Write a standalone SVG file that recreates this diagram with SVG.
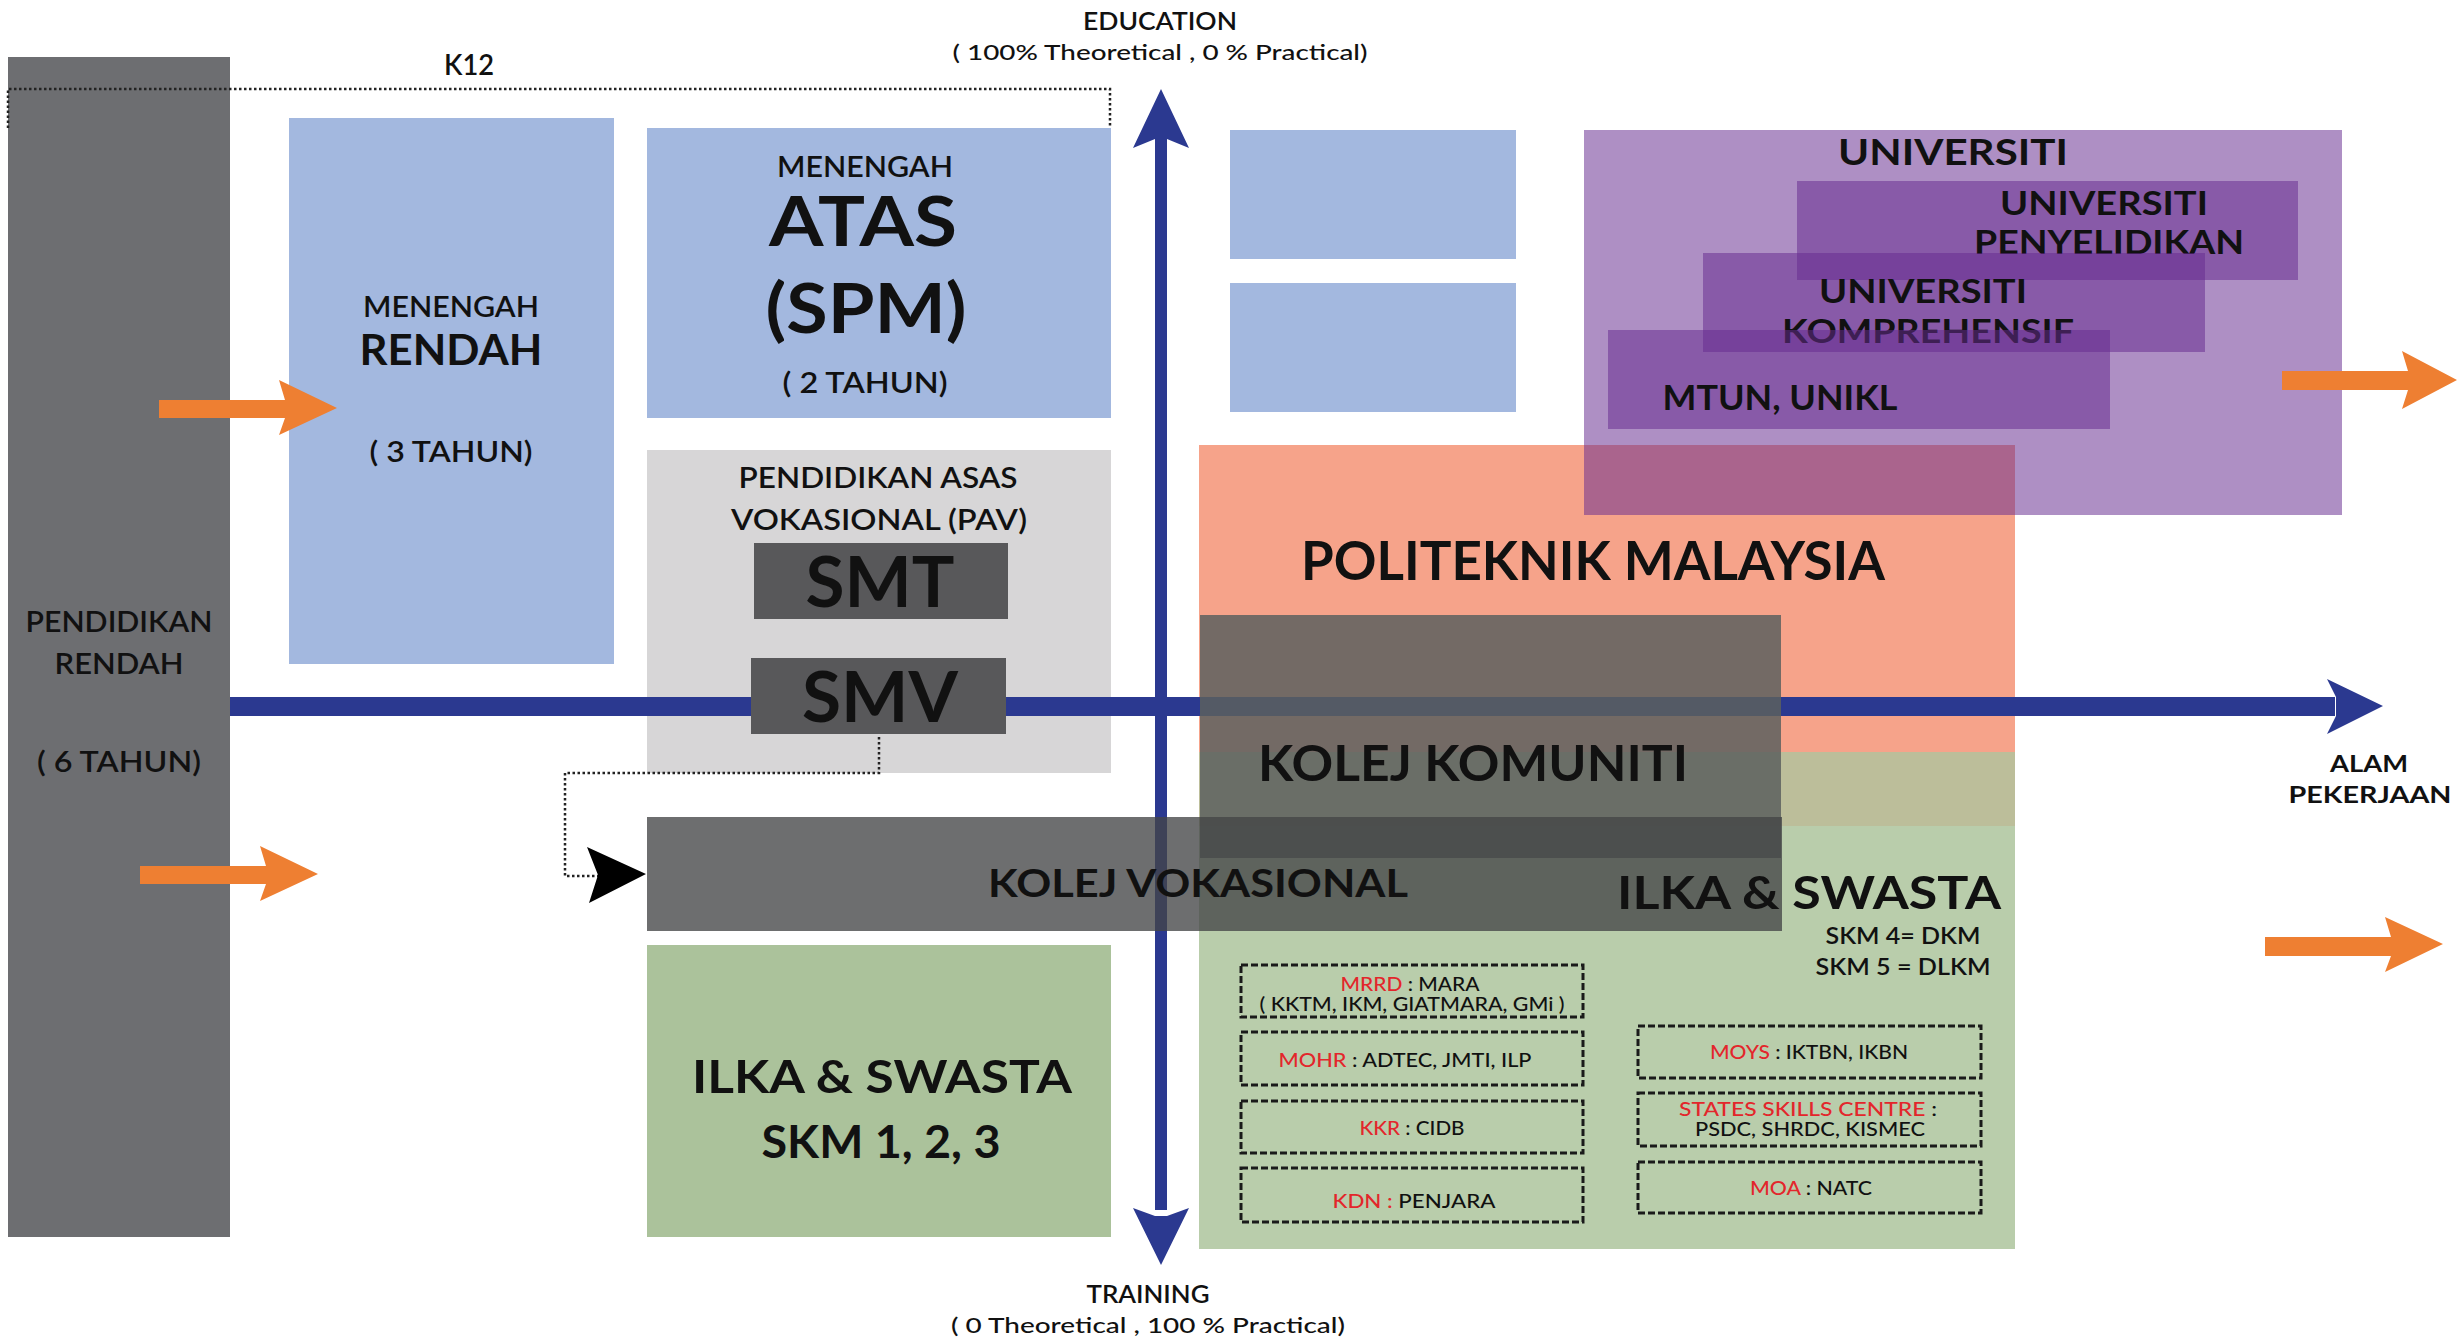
<svg xmlns="http://www.w3.org/2000/svg" width="2458" height="1340" viewBox="0 0 2458 1340">
<style>
text{font-family:Lato,"Liberation Sans",sans-serif;fill:#111;text-anchor:middle}
.b{font-weight:700}
.m{font-weight:600}
.r{font-weight:500}
.red{fill:#e3262b}
.dash{fill:none;stroke:#1a1a1a;stroke-width:3;stroke-dasharray:7 3}
.dot{fill:none;stroke:#222;stroke-width:2.5;stroke-dasharray:2.5 2.5}
.blue{fill:#2b3990}
.orange{fill:#ee7f32}
.lb{fill:#a3b8df}
.purple{fill:#662b8f;fill-opacity:.53}
</style>
<rect width="2458" height="1340" fill="#fff"/>

<g id="pendidikan-rendah">
<rect x="8" y="57" width="222" height="1180" fill="#6d6e71"/>
<text class="m" x="119" y="632" font-size="28" textLength="187" lengthAdjust="spacingAndGlyphs">PENDIDIKAN</text>
<text class="m" x="119" y="674" font-size="28" textLength="129" lengthAdjust="spacingAndGlyphs">RENDAH</text>
<text class="m" x="119" y="772" font-size="28" textLength="164" lengthAdjust="spacingAndGlyphs">( 6 TAHUN)</text>
</g>

<g id="menengah-rendah">
<rect x="289" y="118" width="325" height="546" class="lb"/>
<text class="m" x="451" y="317" font-size="28" textLength="176" lengthAdjust="spacingAndGlyphs">MENENGAH</text>
<text class="b" x="451" y="365" font-size="42" textLength="183" lengthAdjust="spacingAndGlyphs">RENDAH</text>
<text class="m" x="451" y="462" font-size="28" textLength="163" lengthAdjust="spacingAndGlyphs">( 3 TAHUN)</text>
</g>

<g id="menengah-atas">
<rect x="647" y="128" width="464" height="290" class="lb"/>
<text class="m" x="865" y="177" font-size="28" textLength="176" lengthAdjust="spacingAndGlyphs">MENENGAH</text>
<text class="b" x="863" y="246" font-size="68" textLength="188" lengthAdjust="spacingAndGlyphs">ATAS</text>
<text class="b" x="866" y="333" font-size="68" textLength="201" lengthAdjust="spacingAndGlyphs">(SPM)</text>
<text class="m" x="865" y="393" font-size="28" textLength="165" lengthAdjust="spacingAndGlyphs">( 2 TAHUN)</text>
</g>

<g id="pav">
<rect x="647" y="450" width="464" height="323" fill="#d7d6d7"/>
<text class="m" x="878" y="488" font-size="28" textLength="279" lengthAdjust="spacingAndGlyphs">PENDIDIKAN ASAS</text>
<text class="m" x="879" y="530" font-size="28" textLength="296" lengthAdjust="spacingAndGlyphs">VOKASIONAL (PAV)</text>
</g>

<g id="box-blank-1"><rect x="1230" y="130" width="286" height="129" class="lb"/></g>
<g id="box-blank-2"><rect x="1230" y="283" width="286" height="129" class="lb"/></g>

<g id="politeknik-malaysia">
<rect x="1199" y="445" width="816" height="307" fill="#f6a38a"/>
<text class="b" x="1593" y="580" font-size="53" textLength="584" lengthAdjust="spacingAndGlyphs">POLITEKNIK MALAYSIA</text>
</g>

<g id="ilka-swasta-dkm-bg">
<rect x="1199" y="752" width="816" height="74" fill="#bcbe9a"/>
<rect x="1199" y="826" width="816" height="423" fill="#b9cdab"/>
</g>

<g id="universiti">
<rect x="1584" y="130" width="758" height="385" class="purple"/>
<text class="b" x="1953" y="165" font-size="36" textLength="230" lengthAdjust="spacingAndGlyphs">UNIVERSITI</text>
<g id="universiti-penyelidikan">
<rect x="1797" y="181" width="501" height="99" class="purple"/>
<text class="b" x="2104" y="215" font-size="33" textLength="208" lengthAdjust="spacingAndGlyphs">UNIVERSITI</text>
<text class="b" x="2109" y="254" font-size="33" textLength="270" lengthAdjust="spacingAndGlyphs">PENYELIDIKAN</text>
</g>
<g id="universiti-komprehensif">
<rect x="1703" y="253" width="502" height="99" class="purple"/>
<text class="b" x="1923" y="303" font-size="33" textLength="208" lengthAdjust="spacingAndGlyphs">UNIVERSITI</text>
<text class="b" x="1928" y="343" font-size="33" textLength="292" lengthAdjust="spacingAndGlyphs">KOMPREHENSIF</text>
</g>
<g id="mtun-unikl">
<rect x="1608" y="330" width="502" height="99" class="purple"/>
<text class="b" x="1780" y="410" font-size="34" textLength="235" lengthAdjust="spacingAndGlyphs">MTUN, UNIKL</text>
</g>
</g>

<g id="connectors">
<path class="dot" d="M8 128 V89 H1110 V128"/>
<text class="m" x="469" y="75" font-size="28" textLength="50" lengthAdjust="spacingAndGlyphs">K12</text>
<rect class="blue" x="1155" y="138" width="12" height="1072"/>
<polygon class="blue" points="1161,89 1189,148 1167,139 1155,139 1133,148"/>
<polygon class="blue" points="1161,1265 1133,1208 1155,1216 1167,1216 1189,1208"/>
<rect class="blue" x="230" y="697" width="2105" height="19"/>
<polygon class="blue" points="2383,706 2327,679 2336,697 2336,716 2327,734"/>
<text class="m" x="1160" y="30" font-size="24" textLength="154" lengthAdjust="spacingAndGlyphs">EDUCATION</text>
<text class="r" x="1160" y="60" font-size="21" textLength="415" lengthAdjust="spacingAndGlyphs">( 100% Theoretical , 0 % Practical)</text>
<text class="m" x="1148" y="1303" font-size="24" textLength="123" lengthAdjust="spacingAndGlyphs">TRAINING</text>
<text class="r" x="1148" y="1333" font-size="22" textLength="394" lengthAdjust="spacingAndGlyphs">( 0 Theoretical , 100 % Practical)</text>
<text class="b" x="2369" y="772" font-size="22" textLength="78" lengthAdjust="spacingAndGlyphs">ALAM</text>
<text class="b" x="2370" y="803" font-size="22" textLength="163" lengthAdjust="spacingAndGlyphs">PEKERJAAN</text>
<polygon class="orange" points="159,400 285,400 279,380 337,408 279,435 285,418 159,418"/>
<polygon class="orange" points="140,866 266,866 260,846 318,874 260,901 266,884 140,884"/>
<polygon class="orange" points="2282,371 2408,371 2402,351 2457,380 2402,409 2408,390 2282,390"/>
<polygon class="orange" points="2265,937 2391,937 2385,917 2443,944 2385,972 2391,956 2265,956"/>
<path class="dot" d="M879 737 V773 H565 V876 H598"/>
<polygon fill="#000" points="587,847 646,874 589,903 598,875"/>
</g>

<g id="smt">
<rect x="754" y="543" width="254" height="76" fill="#58585a"/>
<text class="b" x="880" y="607" font-size="70" textLength="149" lengthAdjust="spacingAndGlyphs">SMT</text>
</g>
<g id="smv">
<rect x="751" y="658" width="255" height="76" fill="#58585a"/>
<text class="b" x="880" y="722" font-size="70" textLength="156" lengthAdjust="spacingAndGlyphs">SMV</text>
</g>

<g id="kolej-komuniti">
<rect x="1200" y="615" width="581" height="243" fill="#5c605e" fill-opacity=".85"/>
<text class="b" x="1473" y="781" font-size="50" textLength="430" lengthAdjust="spacingAndGlyphs">KOLEJ KOMUNITI</text>
</g>

<g id="kolej-vokasional">
<rect x="647" y="817" width="1135" height="114" fill="#444546" fill-opacity=".78"/>
<text class="b" x="1198" y="897" font-size="39" textLength="420" lengthAdjust="spacingAndGlyphs">KOLEJ VOKASIONAL</text>
</g>

<g id="ilka-swasta-dkm">
<text class="b" x="1809" y="909" font-size="45" textLength="384" lengthAdjust="spacingAndGlyphs">ILKA &amp; SWASTA</text>
<text class="m" x="1903" y="944" font-size="22" textLength="155" lengthAdjust="spacingAndGlyphs">SKM 4= DKM</text>
<text class="m" x="1903" y="975" font-size="22" textLength="175" lengthAdjust="spacingAndGlyphs">SKM 5 = DLKM</text>
<g id="mrrd"><rect class="dash" x="1241" y="965" width="342" height="52"/>
<text class="r" x="1410" y="991" font-size="19" textLength="139" lengthAdjust="spacingAndGlyphs"><tspan class="red">MRRD</tspan> : MARA</text>
<text class="r" x="1412" y="1011" font-size="19" textLength="305" lengthAdjust="spacingAndGlyphs">( KKTM, IKM, GIATMARA, GMi )</text></g>
<g id="mohr"><rect class="dash" x="1241" y="1032" width="342" height="53"/>
<text class="r" x="1405" y="1067" font-size="19" textLength="253" lengthAdjust="spacingAndGlyphs"><tspan class="red">MOHR</tspan> : ADTEC, JMTI, ILP</text></g>
<g id="kkr"><rect class="dash" x="1241" y="1101" width="342" height="52"/>
<text class="r" x="1412" y="1135" font-size="19" textLength="105" lengthAdjust="spacingAndGlyphs"><tspan class="red">KKR</tspan> : CIDB</text></g>
<g id="kdn"><rect class="dash" x="1241" y="1168" width="342" height="54"/>
<text class="r" x="1414" y="1208" font-size="19" textLength="163" lengthAdjust="spacingAndGlyphs"><tspan class="red">KDN :</tspan> PENJARA</text></g>
<g id="moys"><rect class="dash" x="1638" y="1026" width="343" height="52"/>
<text class="r" x="1809" y="1059" font-size="19" textLength="198" lengthAdjust="spacingAndGlyphs"><tspan class="red">MOYS</tspan> : IKTBN, IKBN</text></g>
<g id="states-skills-centre"><rect class="dash" x="1638" y="1093" width="343" height="53"/>
<text class="r" x="1808" y="1116" font-size="19" textLength="258" lengthAdjust="spacingAndGlyphs"><tspan class="red">STATES SKILLS CENTRE</tspan> :</text>
<text class="r" x="1810" y="1136" font-size="19" textLength="230" lengthAdjust="spacingAndGlyphs">PSDC, SHRDC, KISMEC</text></g>
<g id="moa"><rect class="dash" x="1638" y="1162" width="343" height="51"/>
<text class="r" x="1811" y="1195" font-size="19" textLength="122" lengthAdjust="spacingAndGlyphs"><tspan class="red">MOA</tspan> : NATC</text></g>
</g>

<g id="ilka-swasta-skm">
<rect x="647" y="945" width="464" height="292" fill="#abc29b"/>
<text class="b" x="882" y="1093" font-size="46" textLength="380" lengthAdjust="spacingAndGlyphs">ILKA &amp; SWASTA</text>
<text class="b" x="881" y="1158" font-size="46" textLength="239" lengthAdjust="spacingAndGlyphs">SKM 1, 2, 3</text>
</g>
</svg>
